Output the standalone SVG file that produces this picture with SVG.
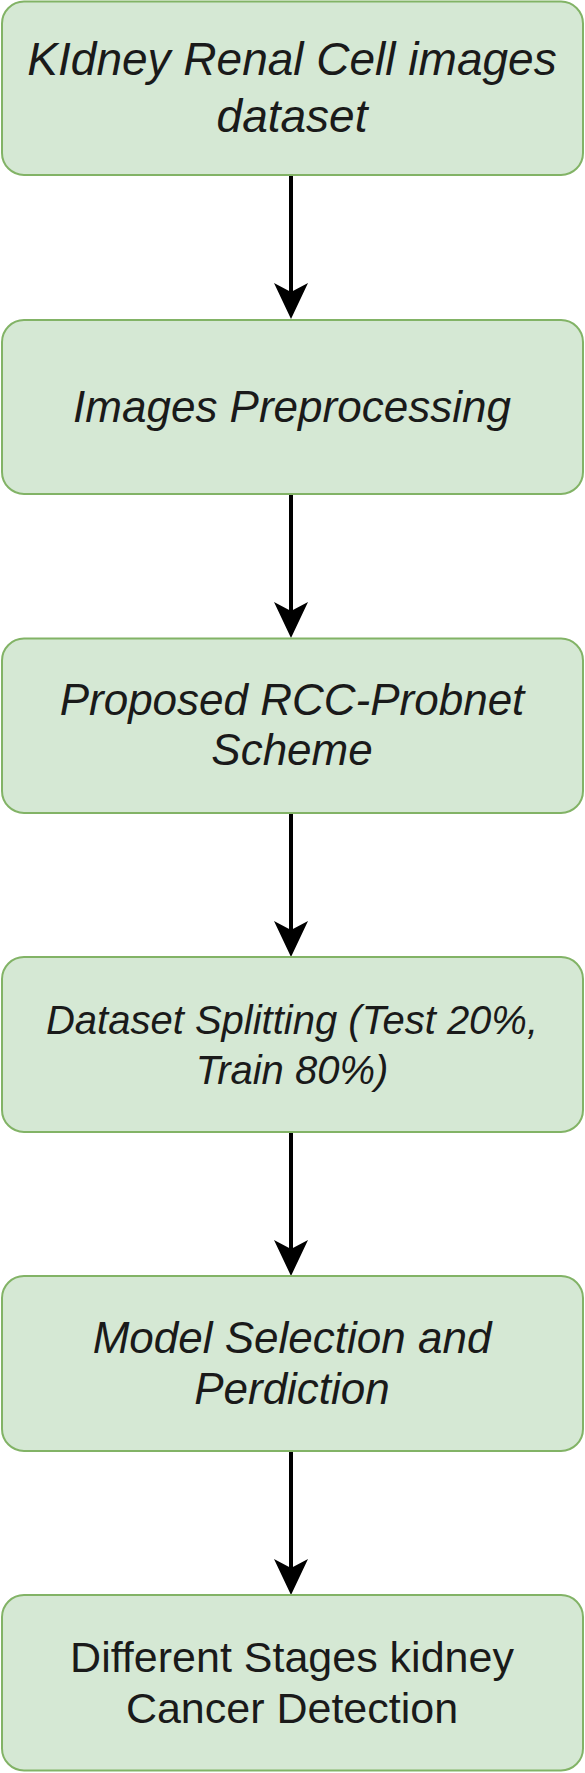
<svg xmlns="http://www.w3.org/2000/svg" width="585" height="1773" viewBox="0 0 585 1773">
<style>
.box{fill:#d5e8d4;stroke:#82b366;stroke-width:2}
.t{font-family:"Liberation Sans",Arial,sans-serif;fill:#1a1a1a;text-anchor:middle;font-style:italic;font-size:44px}
.edge{stroke:#000;stroke-width:4;fill:none}
.head{fill:#000;stroke:none}
</style>
<defs>
<path id="ah" class="head" d="M0,0 L-17,-36 L0,-27 L17,-36 Z"/>
</defs>
<rect width="585" height="1773" fill="#ffffff"/>
<g id="connectors">
<line class="edge" x1="291" y1="175" x2="291" y2="295"/>
<use href="#ah" x="291" y="319"/>
<line class="edge" x1="291" y1="494" x2="291" y2="614"/>
<use href="#ah" x="291" y="638"/>
<line class="edge" x1="291" y1="813" x2="291" y2="933"/>
<use href="#ah" x="291" y="957"/>
<line class="edge" x1="291" y1="1132" x2="291" y2="1252"/>
<use href="#ah" x="291" y="1276"/>
<line class="edge" x1="291" y1="1451" x2="291" y2="1571"/>
<use href="#ah" x="291" y="1595"/>
</g>
<g id="n1">
<rect class="box" x="2" y="1.5" width="581" height="173.5" rx="22"/>
<text class="t" x="292" y="75" style="font-size:46px">KIdney Renal Cell images</text>
<text class="t" x="292" y="132" style="font-size:46px">dataset</text>
</g>
<g id="n2">
<rect class="box" x="2" y="320" width="581" height="174" rx="22"/>
<text class="t" x="292" y="422">Images Preprocessing</text>
</g>
<g id="n3">
<rect class="box" x="2" y="638.5" width="581" height="174.5" rx="22"/>
<text class="t" x="292" y="715">Proposed RCC-Probnet</text>
<text class="t" x="292" y="765">Scheme</text>
</g>
<g id="n4">
<rect class="box" x="2" y="957" width="581" height="175" rx="22"/>
<text class="t" x="292" y="1034" style="font-size:40px">Dataset Splitting (Test 20%,</text>
<text class="t" x="292" y="1084" style="font-size:40px">Train 80%)</text>
</g>
<g id="n5">
<rect class="box" x="2" y="1276" width="581" height="175" rx="22"/>
<text class="t" x="292" y="1353">Model Selection and</text>
<text class="t" x="292" y="1404">Perdiction</text>
</g>
<g id="n6">
<rect class="box" x="2" y="1595" width="581" height="175.5" rx="22"/>
<text class="t" x="292" y="1672" style="font-style:normal;font-size:43px">Different Stages kidney</text>
<text class="t" x="292" y="1723" style="font-style:normal;font-size:43px">Cancer Detection</text>
</g>
</svg>
